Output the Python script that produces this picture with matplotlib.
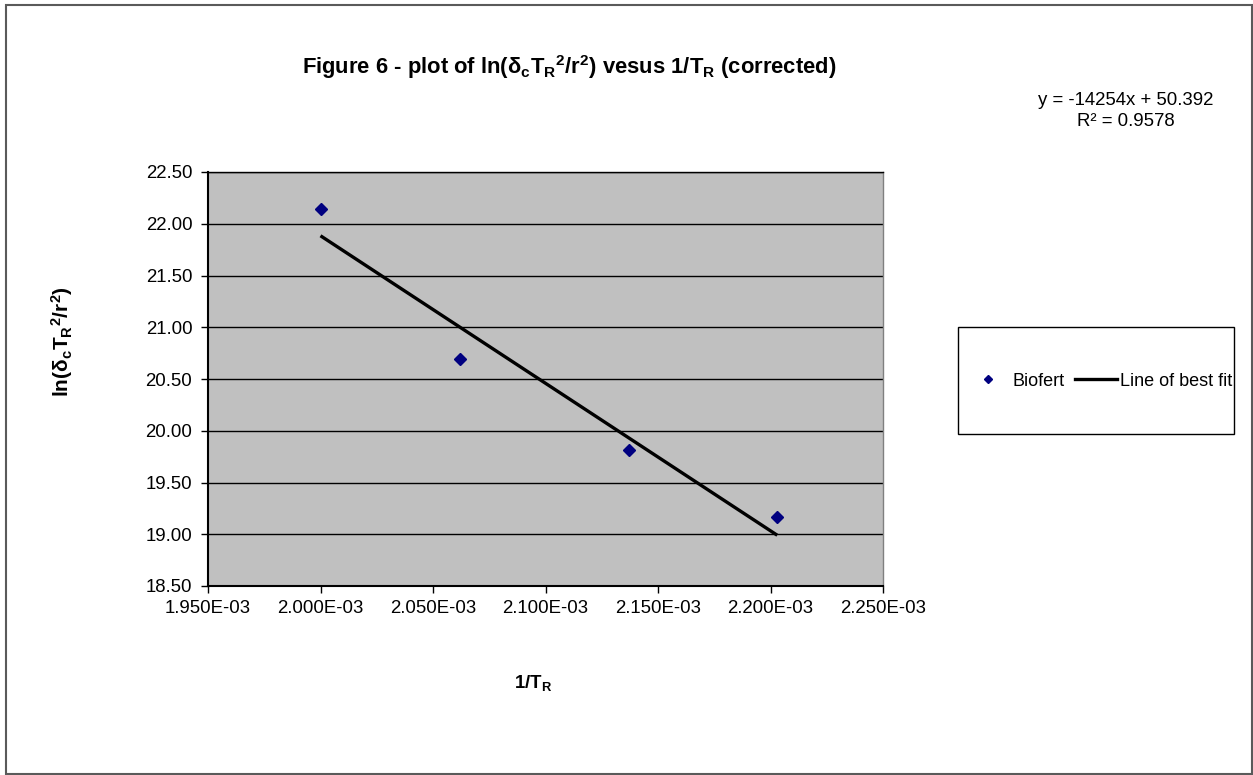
import matplotlib
matplotlib.use("Agg")
import matplotlib.pyplot as plt
from matplotlib.patches import Rectangle
from matplotlib.lines import Line2D
from matplotlib.ticker import FuncFormatter, MultipleLocator

# ---- data ----
inv_TR = [2.000e-3, 2.062e-3, 2.137e-3, 2.203e-3]
ln_val = [22.14, 20.69, 19.81, 19.17]
fit_slope = -14254.0
fit_intercept = 50.392
fit_r2 = 0.9578
series_name = "Biofert"
fit_name = "Line of best fit"
title_text = "Figure 6 - plot of ln($\\mathbf{δ_cT_R{}^2/r^2}$) vesus 1/T$_\\mathbf{R}$ (corrected)"
ylabel_text = "ln($\\mathbf{δ_cT_R{}^2/r^2}$)"
xlabel_text = "1/T$_\\mathbf{R}$"

plt.rcParams['font.family'] = ['Liberation Sans', 'DejaVu Sans']
plt.rcParams['mathtext.fontset'] = 'custom'
plt.rcParams['mathtext.rm'] = 'Liberation Sans'
plt.rcParams['mathtext.bf'] = 'Liberation Sans:bold'
plt.rcParams['mathtext.it'] = 'Liberation Sans:italic'

W, H = 1253, 775
fig = plt.figure(figsize=(W / 100, H / 100), dpi=100)
fig.patch.set_facecolor('white')

def fx(px):
    return px / W

def fy(py):
    return 1 - py / H

# outer chart border
fig.patches.append(Rectangle((fx(6), fy(774)), fx(1251.5) - fx(6), fy(5) - fy(774),
                             transform=fig.transFigure, fill=False,
                             edgecolor='#5a5a5a', lw=1.5, zorder=0))

left, right, top, bottom = 208, 883, 172, 586
ax = fig.add_axes([fx(left), fy(bottom), fx(right) - fx(left), fy(top) - fy(bottom)])
ax.set_facecolor('#C0C0C0')

ax.set_xlim(1.95e-3, 2.25e-3)
ax.set_ylim(18.5, 22.5)
ax.xaxis.set_major_locator(MultipleLocator(0.05e-3))
ax.yaxis.set_major_locator(MultipleLocator(0.5))
ax.xaxis.set_major_formatter(FuncFormatter(lambda v, p: f"{v:.3E}"))
ax.yaxis.set_major_formatter(FuncFormatter(lambda v, p: f"{v:.2f}"))
ax.grid(axis='y', color='black', lw=1.0)
ax.set_axisbelow(True)

ax.spines['right'].set_color('#808080')
ax.spines['right'].set_linewidth(1.0)
ax.spines['top'].set_color('black')
ax.spines['top'].set_linewidth(1.0)
for s in ['left', 'bottom']:
    ax.spines[s].set_color('black')
    ax.spines[s].set_linewidth(1.5)

ax.tick_params(axis='both', direction='out', length=4.8, width=1.0, colors='black',
               labelsize=13.4)
ax.tick_params(axis='y', pad=6.5)
ax.tick_params(axis='x', pad=5.5)

# data
ax.plot(inv_TR, ln_val, linestyle='none', marker='D', ms=6.5, color='#000080',
        zorder=3)
# fit line
xs = [min(inv_TR), max(inv_TR)]
ys = [fit_slope * x + fit_intercept for x in xs]
ax.plot(xs, ys, color='black', lw=2.4, solid_capstyle='butt', zorder=2)

# title and labels
fig.text(fx(569), fy(67), title_text, ha='center', va='center', fontsize=15.8,
         fontweight='bold')
fig.text(fx(62), fy(342), ylabel_text, ha='center', va='center', rotation=90,
         fontsize=15.0, fontweight='bold')
fig.text(fx(533), fy(683), xlabel_text, ha='center', va='center', fontsize=13.4,
         fontweight='bold')

# equation
eq = f"y = {fit_slope:.0f}x + {fit_intercept}\nR² = {fit_r2}"
fig.text(fx(1126), fy(111), eq, ha='center', va='center', fontsize=13.4,
         multialignment='center', linespacing=1.3)

# legend box
fig.patches.append(Rectangle((fx(958), fy(434)), fx(1234) - fx(958), fy(327) - fy(434),
                             transform=fig.transFigure, fill=True, facecolor='white',
                             edgecolor='black', lw=1.0, zorder=1))
handles = [Line2D([], [], linestyle='none', marker='D', ms=4.5, color='#000080'),
           Line2D([], [], color='black', lw=2.4)]
fig.legend(handles, [series_name, fit_name], loc='center',
           bbox_to_anchor=(fx(1100), fy(381)), ncol=2, frameon=False,
           fontsize=13.0, handlelength=2.3, handletextpad=0.2,
           columnspacing=0.6, borderpad=0, borderaxespad=0)

fig.savefig('out.png', dpi=100)
